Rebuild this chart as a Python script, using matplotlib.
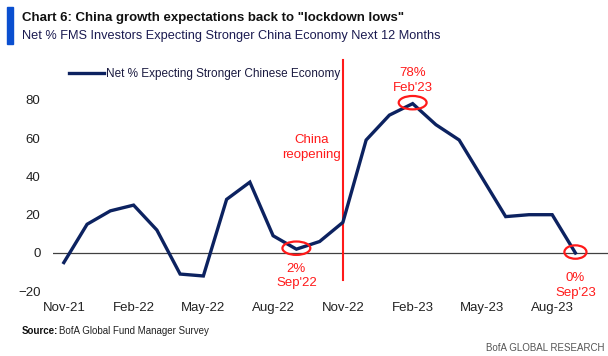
import matplotlib
matplotlib.use("Agg")
import matplotlib.pyplot as plt
from matplotlib.patches import Ellipse, Rectangle

plt.rcParams['font.family'] = ['Liberation Sans Narrow', 'Liberation Sans', 'DejaVu Sans']

# monthly survey readings, Nov-21 .. Sep-23
months = ["Nov-21", "Dec-21", "Jan-22", "Feb-22", "Mar-22", "Apr-22", "May-22", "Jun-22",
          "Jul-22", "Aug-22", "Sep-22", "Oct-22", "Nov-22", "Dec-22", "Jan-23", "Feb-23",
          "Mar-23", "Apr-23", "May-23", "Jun-23", "Jul-23", "Aug-23", "Sep-23"]
net_pct = [-5, 15, 22, 25, 12, -11, -12, 28, 37, 9, 2, 6, 16, 59, 72, 78,
           67, 59, 39, 19, 20, 20, 0]
tick_labels = ["Nov-21", "Feb-22", "May-22", "Aug-22", "Nov-22", "Feb-23", "May-23", "Aug-23"]
y_ticks = [-20, 0, 20, 40, 60, 80]
reopening = "Nov-22"
callouts = [("Sep-22", "2%\nSep'22"), ("Feb-23", "78%\nFeb'23"), ("Sep-23", "0%\nSep'23")]

navy = "#0c2260"
red = "#ff1a1a"

fig = plt.figure(figsize=(6.08, 3.56), dpi=100)
ax = fig.add_axes([0.087, 0.171, 0.913, 0.667])

x = list(range(len(months)))
ax.plot(x, net_pct, color=navy, linewidth=2.4, solid_joinstyle='miter',
        label="Net % Expecting Stronger Chinese Economy", zorder=3)
ax.axhline(0, color="#404040", linewidth=0.9, zorder=1)

ax.set_xlim(-0.47, 23.4)
ax.set_ylim(-22, 102)

# reopening marker
xr = months.index(reopening)
ax.plot([xr, xr], [-14, 101], color=red, linewidth=1.5, zorder=2)
ax.text(xr - 0.1, 55, "China\nreopening", color=red, fontsize=9.5, ha='right',
        va='center', linespacing=1.3, multialignment='center')

# callout ellipses
offsets = {"Sep-22": -14, "Feb-23": 12, "Sep-23": -17}
for m, txt in callouts:
    i = months.index(m)
    v = net_pct[i]
    w = 1.2 if m != "Sep-23" else 0.95
    ax.add_patch(Ellipse((i, v + 0.5), w, 7, fill=False, edgecolor=red, linewidth=1.6, zorder=4))
    ax.text(i, v + offsets[m], txt, color=red, fontsize=9.5, ha='center',
            va='center', linespacing=1.3)

ax.set_xticks([months.index(t) for t in tick_labels])
ax.set_xticklabels(tick_labels)
ax.set_yticks(y_ticks)
ax.tick_params(axis='both', length=0, labelsize=9.5, colors="#222222")
ax.tick_params(axis='x', pad=5)
ax.tick_params(axis='y', pad=9)
for s in ax.spines.values():
    s.set_visible(False)

leg = ax.legend(loc='upper left', bbox_to_anchor=(0.01, 1.0), frameon=False,
                fontsize=8.5, handlelength=3.0, handletextpad=0.1)
for t in leg.get_texts():
    t.set_color("#1a1a40")

# header
fig.patches.append(Rectangle((7 / 608, 1 - 44 / 356), 6 / 608, 37 / 356,
                             transform=fig.transFigure, color="#0a4fd0"))
fig.text(22 / 608, 1 - 18 / 356, 'Chart 6: China growth expectations back to "lockdown lows"',
         fontsize=9.5, fontweight='bold', color="#111111", va='center')
fig.text(22 / 608, 1 - 36 / 356, "Net % FMS Investors Expecting Stronger China Economy Next 12 Months",
         fontsize=9.2, color="#1a1a50", va='center')
fig.text(22 / 608, 1 - 331 / 356, "Source:", fontsize=7, fontweight='bold', color="#111111", va='center')
fig.text(59 / 608, 1 - 331 / 356, "BofA Global Fund Manager Survey", fontsize=7, color="#222222", va='center')
fig.text(604 / 608, 1 - 348 / 356, "BofA GLOBAL RESEARCH", fontsize=7, color="#555555",
         ha='right', va='center')

fig.savefig("out.png", dpi=100)
